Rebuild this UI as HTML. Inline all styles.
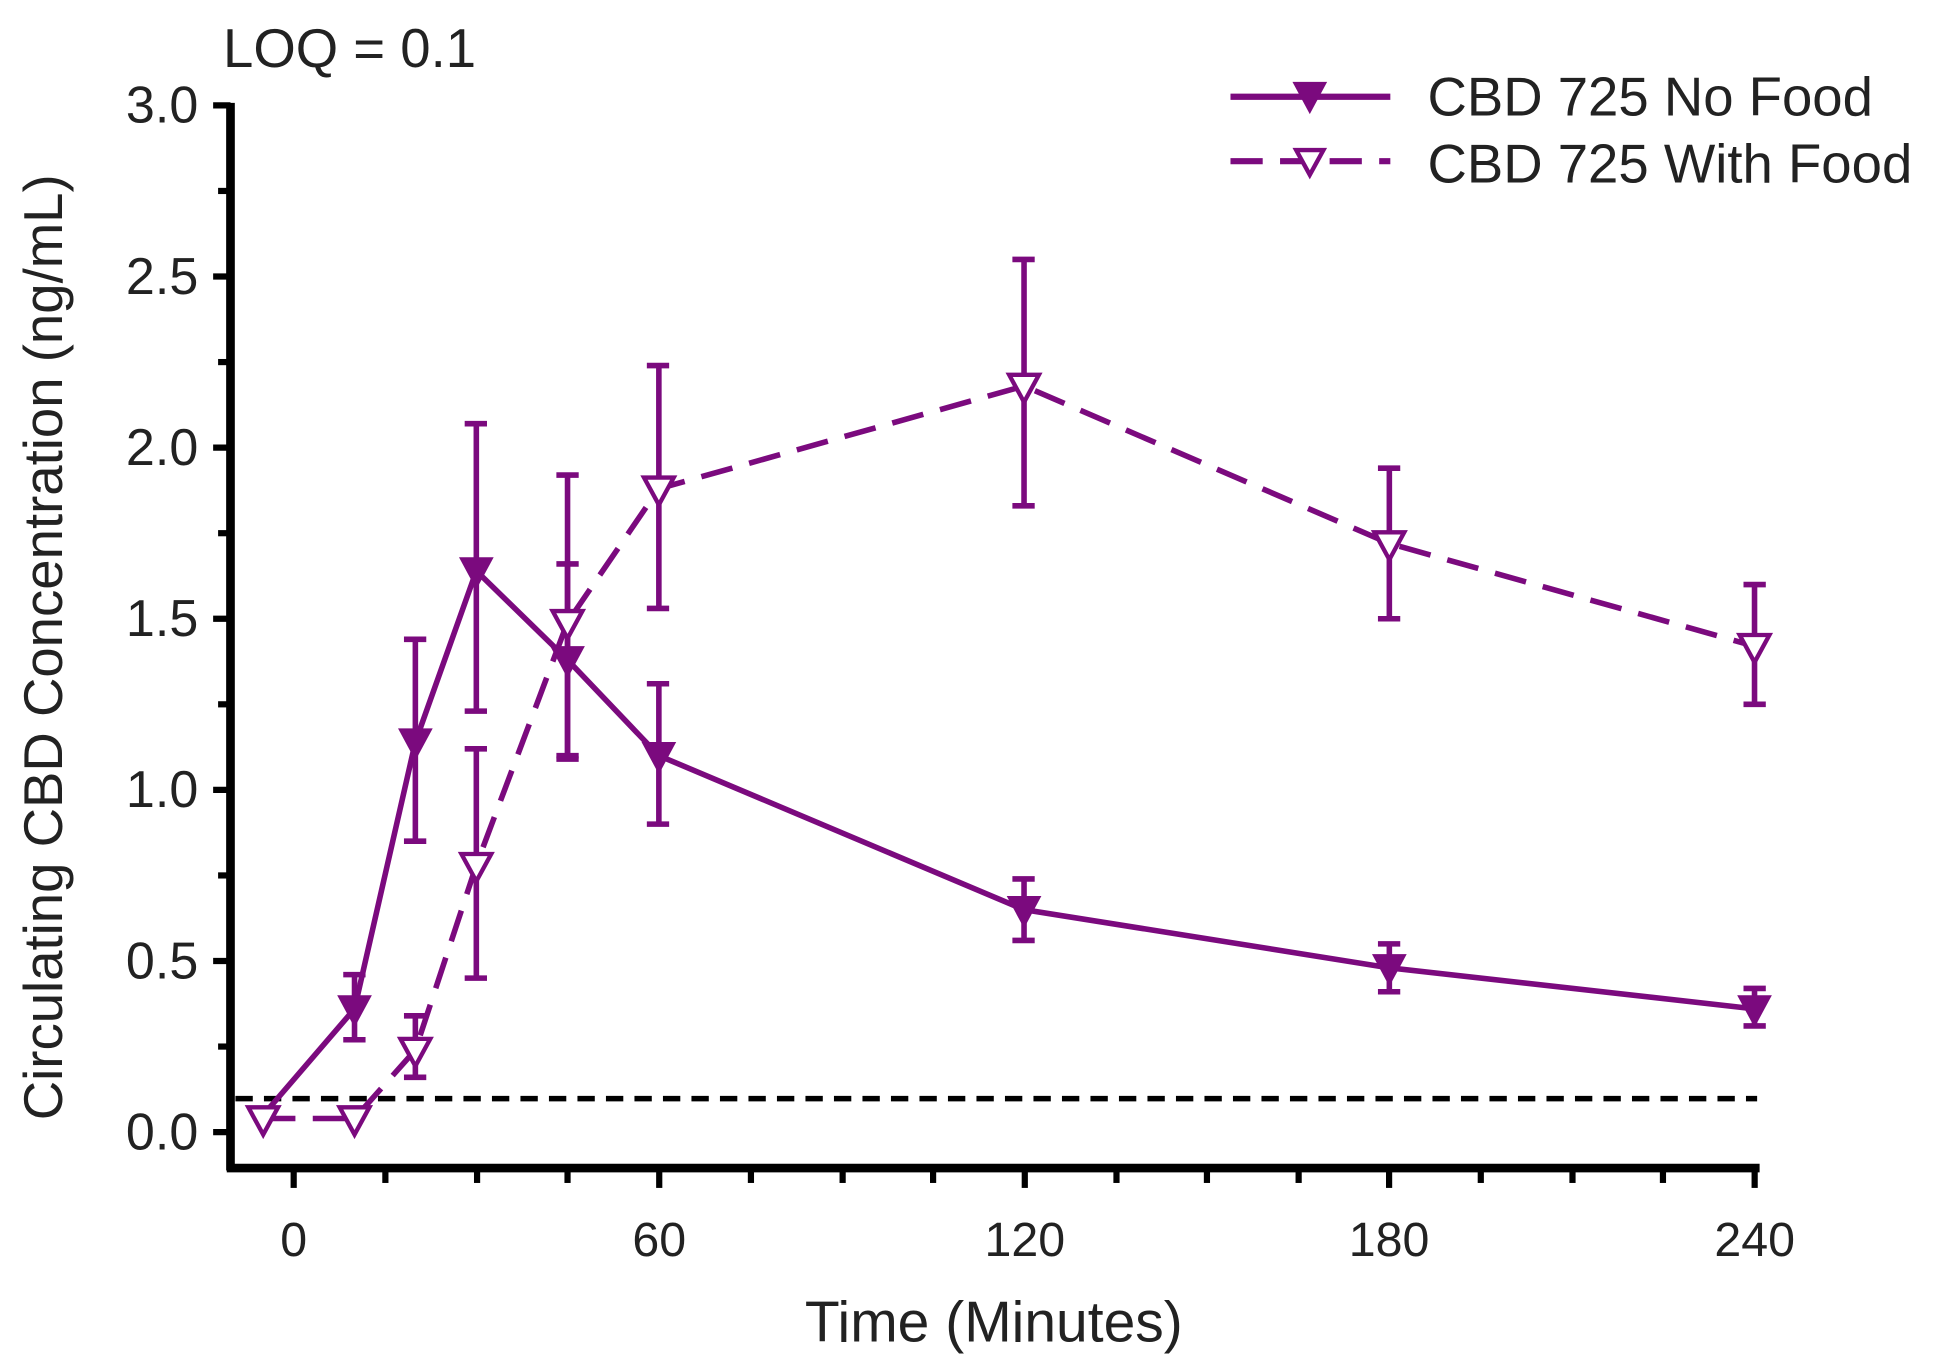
<!DOCTYPE html>
<html><head><style>html,body{margin:0;padding:0;background:#fff}svg{display:block}</style></head>
<body>
<svg width="1943" height="1364" viewBox="0 0 1568 1100" preserveAspectRatio="none" xmlns="http://www.w3.org/2000/svg" font-family="Liberation Sans, Arial, sans-serif">
<rect width="1568" height="1100" fill="#fff"/>
<!-- axes -->
<line x1="186" y1="83" x2="186" y2="944" stroke="#000" stroke-width="7"/>
<line x1="183" y1="942" x2="1420" y2="942" stroke="#000" stroke-width="7"/>
<g stroke="#000" stroke-width="5">
<line x1="172" y1="85" x2="186" y2="85"/><line x1="176" y1="154" x2="186" y2="154"/>
<line x1="172" y1="223" x2="186" y2="223"/><line x1="176" y1="292" x2="186" y2="292"/>
<line x1="172" y1="361" x2="186" y2="361"/><line x1="176" y1="430" x2="186" y2="430"/>
<line x1="172" y1="499" x2="186" y2="499"/><line x1="176" y1="568" x2="186" y2="568"/>
<line x1="172" y1="637" x2="186" y2="637"/><line x1="176" y1="706" x2="186" y2="706"/>
<line x1="172" y1="775" x2="186" y2="775"/><line x1="176" y1="844" x2="186" y2="844"/>
<line x1="172" y1="913" x2="186" y2="913"/>
<line x1="237" y1="942" x2="237" y2="958"/><line x1="311" y1="942" x2="311" y2="954"/>
<line x1="385" y1="942" x2="385" y2="954"/><line x1="458" y1="942" x2="458" y2="954"/>
<line x1="532" y1="942" x2="532" y2="958"/><line x1="606" y1="942" x2="606" y2="954"/>
<line x1="680" y1="942" x2="680" y2="954"/><line x1="753" y1="942" x2="753" y2="954"/>
<line x1="827" y1="942" x2="827" y2="958"/><line x1="901" y1="942" x2="901" y2="954"/>
<line x1="974" y1="942" x2="974" y2="954"/><line x1="1048" y1="942" x2="1048" y2="954"/>
<line x1="1121" y1="942" x2="1121" y2="958"/><line x1="1195" y1="942" x2="1195" y2="954"/>
<line x1="1269" y1="942" x2="1269" y2="954"/><line x1="1342" y1="942" x2="1342" y2="954"/>
<line x1="1416" y1="942" x2="1416" y2="958"/>
</g>
<g font-size="42" fill="#222" text-anchor="end">
<text x="160" y="99">3.0</text><text x="160" y="237">2.5</text><text x="160" y="375">2.0</text>
<text x="160" y="513">1.5</text><text x="160" y="651">1.0</text><text x="160" y="789">0.5</text><text x="160" y="927">0.0</text>
</g>
<g font-size="39" fill="#222" text-anchor="middle">
<text x="237" y="1013">0</text><text x="532" y="1013">60</text><text x="827" y="1013">120</text>
<text x="1121" y="1013">180</text><text x="1416" y="1013">240</text>
</g>
<text x="802" y="1082" font-size="46" fill="#222" text-anchor="middle">Time (Minutes)</text>
<text transform="translate(50,522) rotate(-90)" font-size="44" fill="#222" text-anchor="middle">Circulating CBD Concentration (ng/mL)</text>
<text x="180" y="54" font-size="44" fill="#222">LOQ = 0.1</text>
<!-- LOQ line -->
<line x1="190" y1="886" x2="1418" y2="886" stroke="#000" stroke-width="4.5" stroke-dasharray="14,9"/>
<g stroke="#7b0a7e" stroke-width="4.5" fill="none">
<polyline stroke-dasharray="26,14" points="212.4,902 286.1,902 335.2,846.8 384.4,697.7 458,501.8 531.7,394.1 826.4,311.3 1121.2,438.3 1415.9,521.1"/>
<polyline points="212.4,899.2 286.1,813.6 335.2,598.4 384.4,460.4 458,532.1 531.7,609.4 826.4,733.6 1121.2,780.5 1415.9,813.6"/>
<path d="M286.1,838.5V786M277,838.5h18M277,786h18
M335.2,678.4V515.6M326,678.4h18M326,515.6h18
M384.4,573.5V341.7M375,573.5h18M375,341.7h18
M458,612.2V454.8M449,612.2h18M449,454.8h18
M531.7,664.6V551.4M522,664.6h18M522,551.4h18
M826.4,758.4V708.8M817,758.4h18M817,708.8h18
M1121.2,799.8V761.2M1112,799.8h18M1112,761.2h18
M1415.9,827.4V797.1M1407,827.4h18M1407,797.1h18"/>
<path d="M335.2,868.8V819.2M326,868.8h18M326,819.2h18
M384.4,788.8V603.9M375,788.8h18M375,603.9h18
M458,609.4V383.1M449,609.4h18M449,383.1h18
M531.7,490.7V294.8M522,490.7h18M522,294.8h18
M826.4,407.9V209.2M817,407.9h18M817,209.2h18
M1121.2,499V377.6M1112,499h18M1112,377.6h18
M1415.9,568V471.4M1407,568h18M1407,471.4h18"/>
</g>
<g stroke="#7b0a7e" stroke-width="3.5" fill="#fff">
<path d="M200.4,893h24l-12,22z"/><path d="M274.1,893h24l-12,22z"/><path d="M323.2,837.8h24l-12,22z"/>
<path d="M372.4,688.7h24l-12,22z"/><path d="M446,492.8h24l-12,22z"/><path d="M519.7,385.1h24l-12,22z"/>
<path d="M814.4,302.3h24l-12,22z"/><path d="M1109.2,429.3h24l-12,22z"/><path d="M1403.9,512.1h24l-12,22z"/>
</g>
<g fill="#7b0a7e">
<path d="M272.1,802.6h28l-14,26z"/><path d="M321.2,587.4h28l-14,26z"/><path d="M370.4,449.4h28l-14,26z"/>
<path d="M444,521.1h28l-14,26z"/><path d="M517.7,598.4h28l-14,26z"/><path d="M812.4,722.6h28l-14,26z"/>
<path d="M1107.2,769.5h28l-14,26z"/><path d="M1401.9,802.6h28l-14,26z"/>
</g>
<!-- legend -->
<line x1="993" y1="78" x2="1122" y2="78" stroke="#7b0a7e" stroke-width="5"/>
<path d="M1043,66h28l-14,26z" fill="#7b0a7e"/>
<line x1="993" y1="130" x2="1122" y2="130" stroke="#7b0a7e" stroke-width="5" stroke-dasharray="26,14"/>
<path d="M1046,121h22l-11,20z" fill="#fff" stroke="#7b0a7e" stroke-width="3.5"/>
<g font-size="44" fill="#222">
<text x="1152" y="93">CBD 725 No Food</text>
<text x="1152" y="147">CBD 725 With Food</text>
</g>
</svg>
</body></html>
